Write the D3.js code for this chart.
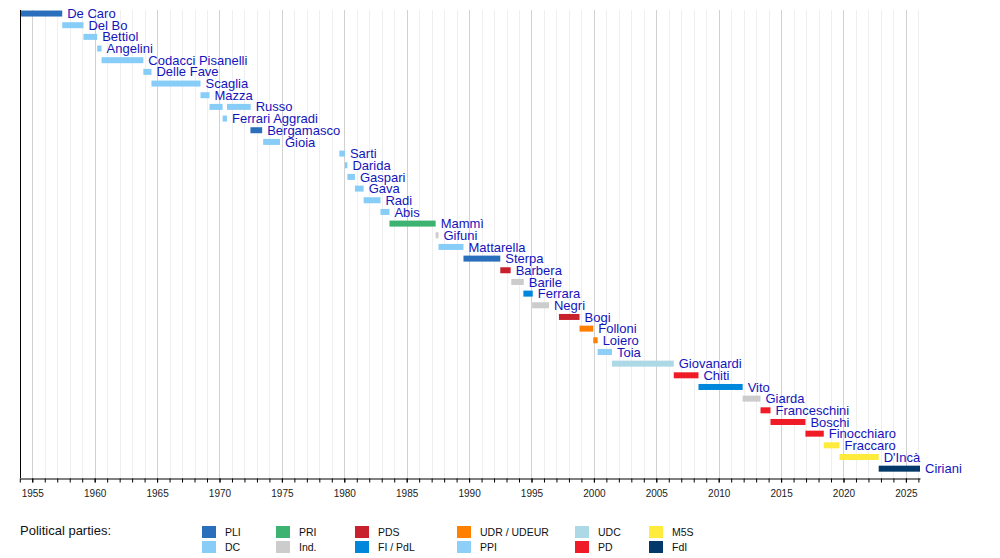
<!DOCTYPE html>
<html>
<head>
<meta charset="utf-8">
<script src="https://cdnjs.cloudflare.com/ajax/libs/d3/7.8.5/d3.min.js"></script>
<style>
  html, body { margin: 0; padding: 0; background: #fff; }
  svg { display: block; font-family: "Liberation Sans", Arial, sans-serif; }
  .name { fill: #1414bc; font-size: 13px; }
  .axis text { font-size: 10px; fill: #222; }
  .legend text { font-size: 10.5px; fill: #111; }
</style>
</head>
<body>
<svg id="chart" width="1000" height="558"></svg>
<script>
// parties and their colours
var parties      = ["PLI", "DC", "PRI", "Ind.", "PDS", "FI / PdL", "UDR / UDEUR", "PPI", "UDC", "PD", "M5S", "FdI"];
var partyColours = ["#2a6fbb", "#87cdf8", "#3cb371", "#cccccc", "#c9202e", "#0087dc", "#ff8000", "#8dcff7", "#add8e6", "#ef1c27", "#ffeb3b", "#03386a"];

// one entry per term (Russo served twice)
var termNames   = ["De Caro", "Del Bo", "Bettiol", "Angelini", "Codacci Pisanelli", "Delle Fave", "Scaglia", "Mazza",
                   "Russo", "Ferrari Aggradi", "Russo", "Bergamasco", "Gioia", "Sarti", "Darida", "Gaspari", "Gava",
                   "Radi", "Abis", "Mammì", "Gifuni", "Mattarella", "Sterpa", "Barbera", "Barile", "Ferrara", "Negri",
                   "Bogi", "Folloni", "Loiero", "Toia", "Giovanardi", "Chiti", "Vito", "Giarda", "Franceschini",
                   "Boschi", "Finocchiaro", "Fraccaro", "D'Incà", "Ciriani"];
var termParties = ["PLI", "DC", "DC", "DC", "DC", "DC", "DC", "DC",
                   "DC", "DC", "DC", "PLI", "DC", "DC", "DC", "DC", "DC",
                   "DC", "DC", "PRI", "Ind.", "DC", "PLI", "PDS", "Ind.", "FI / PdL", "Ind.",
                   "PDS", "UDR / UDEUR", "UDR / UDEUR", "PPI", "UDC", "PD", "FI / PdL", "Ind.", "PD",
                   "PD", "PD", "M5S", "M5S", "FdI"];
var termStarts  = [1954.1, 1957.4, 1959.1, 1960.2, 1960.55, 1963.9, 1964.55, 1968.48,
                   1969.2, 1970.25, 1970.6, 1972.48, 1973.5, 1979.6, 1980.05, 1980.25, 1980.85,
                   1981.55, 1982.9, 1983.62, 1987.32, 1987.55, 1989.55, 1992.5, 1993.38, 1994.35, 1995.05,
                   1997.2, 1998.85, 1999.95, 2000.3, 2001.45, 2006.4, 2008.38, 2011.92, 2013.35,
                   2014.15, 2016.95, 2018.42, 2019.68, 2022.82];
var termEnds    = [1957.4, 1959.1, 1960.2, 1960.55, 1963.9, 1964.55, 1968.48, 1969.2,
                   1970.25, 1970.6, 1972.5, 1973.42, 1974.85, 1980.05, 1980.25, 1980.85, 1981.55,
                   1982.9, 1983.62, 1987.32, 1987.55, 1989.55, 1992.5, 1993.33, 1994.38, 1995.1, 1996.4,
                   1998.85, 1999.95, 2000.3, 2001.45, 2006.4, 2008.38, 2011.92, 2013.35, 2014.15,
                   2016.95, 2018.42, 2019.68, 2022.82, 2026.13];

// axis
var yearStart = 1954, yearEnd = 2026.13;
var majorTicks = d3.range(1955, 2026, 5);
var minorTicks = d3.range(1954, 2027);

var svg = d3.select("#chart");

var rows = Array.from(new Set(termNames));
var terms = termNames.map(function(n, i) {
  return { name: n, party: termParties[i], start: termStarts[i], end: termEnds[i] };
});

var plotTop = 10, plotBottom = 478;

var x = d3.scaleLinear().domain([yearStart, yearEnd]).range([19.8, 920]);
var y = d3.scaleBand().domain(rows).range([7.7, 474.5]);
var colour = d3.scaleOrdinal().domain(parties).range(partyColours);

// grid lines
var grid = svg.append("g").attr("class", "grid");
grid.selectAll("line.minor")
    .data(minorTicks.filter(function(d) { return d % 5 !== 0 && d <= yearEnd; }))
  .enter().append("line")
    .attr("class", "minor")
    .attr("x1", function(d) { return Math.round(x(d)) + 0.5; })
    .attr("x2", function(d) { return Math.round(x(d)) + 0.5; })
    .attr("y1", plotTop).attr("y2", plotBottom)
    .style("stroke", "#efefef");
grid.selectAll("line.major")
    .data(majorTicks)
  .enter().append("line")
    .attr("class", "major")
    .attr("x1", function(d) { return Math.round(x(d)) + 0.5; })
    .attr("x2", function(d) { return Math.round(x(d)) + 0.5; })
    .attr("y1", plotTop).attr("y2", plotBottom)
    .style("stroke", "#d2d2d2");

// bars
var barH = 6;
svg.append("g").selectAll("rect")
    .data(terms)
  .enter().append("rect")
    .attr("x", function(d) { return x(d.start); })
    .attr("width", function(d) { return x(d.end) - x(d.start); })
    .attr("y", function(d) { return y(d.name) + y.bandwidth() / 2 - barH / 2; })
    .attr("height", barH)
    .style("fill", function(d) { return colour(d.party); });

// names, placed after the last term of each person
svg.append("g").selectAll("text")
    .data(rows)
  .enter().append("text")
    .attr("class", "name")
    .attr("x", function(n) {
      return x(d3.max(terms.filter(function(t) { return t.name === n; }), function(t) { return t.end; })) + 5;
    })
    .attr("y", function(n) { return y(n) + y.bandwidth() / 2 + 4.6; })
    .text(function(n) { return n; });

// left line
svg.append("line")
    .attr("x1", 20.5).attr("x2", 20.5)
    .attr("y1", plotTop).attr("y2", plotBottom)
    .style("stroke", "#000");

// axes
svg.append("g")
    .attr("class", "axis")
    .attr("transform", "translate(0," + (plotBottom + 0.5) + ")")
    .call(d3.axisBottom(x).tickValues(minorTicks.filter(function(d) { return d <= yearEnd; }))
      .tickSize(4).tickSizeOuter(0).tickFormat(""))
    .call(function(g) { g.select(".domain").remove(); });

svg.append("g")
    .attr("class", "axis")
    .attr("transform", "translate(0," + (plotBottom + 0.5) + ")")
    .call(d3.axisBottom(x).tickValues(majorTicks).tickSize(4).tickSizeOuter(0).tickPadding(7).tickFormat(d3.format("d")))
    .call(function(g) { g.select(".domain").style("stroke", "#000"); });

// legend
var legendCols = [202, 276, 355, 457, 575, 649];
var legendRows = [526, 541];
var legend = svg.append("g").attr("class", "legend");

legend.append("text")
    .attr("x", 20).attr("y", 535)
    .style("font-size", "13px")
    .text("Political parties:");

var items = legend.selectAll("g.item")
    .data(parties)
  .enter().append("g")
    .attr("class", "item")
    .attr("transform", function(d, i) {
      return "translate(" + legendCols[Math.floor(i / 2)] + "," + legendRows[i % 2] + ")";
    });
items.append("rect")
    .attr("width", 14).attr("height", 12)
    .style("fill", function(d) { return colour(d); });
items.append("text")
    .attr("x", 23).attr("y", 10)
    .text(function(d) { return d; });
</script>
</body>
</html>
